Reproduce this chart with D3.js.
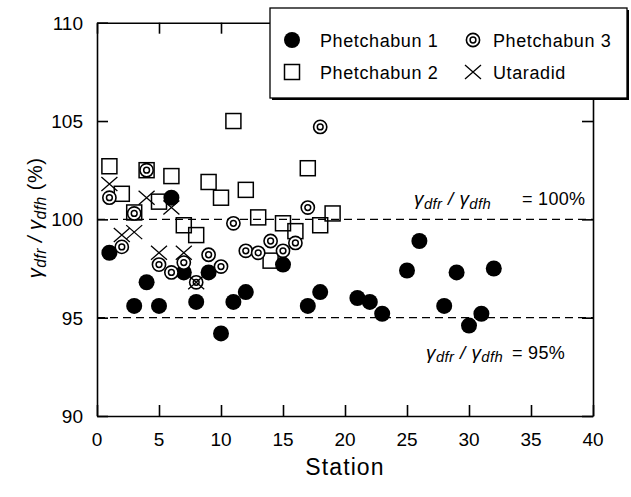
<!DOCTYPE html>
<html><head><meta charset="utf-8">
<script src="https://cdn.jsdelivr.net/npm/d3@7"></script>
<style>
body{margin:0;background:#fff;}
text{font-family:"Liberation Sans",Arial,sans-serif;fill:#000;}
</style></head>
<body>
<svg id="c" width="631" height="497"></svg>
<script>
// ---- data ----
const p1Station = [1,3,4,5,6,7,8,9,10,11,12,15,17,18,21,22,23,25,26,28,29,30,31,32];
const p1Value   = [98.3,95.6,96.8,95.6,101.1,97.3,95.8,97.3,94.2,95.8,96.3,97.7,95.6,96.3,96.0,95.8,95.2,97.4,98.9,95.6,97.3,94.6,95.2,97.5];
const p2Station = [1,2,3,4,5,6,7,8,9,10,11,12,13,14,15,16,17,18,19];
const p2Value   = [102.7,101.3,100.35,102.5,100.9,102.2,99.7,99.2,101.9,101.1,105.0,101.5,100.1,97.9,99.8,99.4,102.6,99.7,100.3];
const p3Station = [1,2,3,4,5,6,7,8,9,10,11,12,13,14,15,16,17,18];
const p3Value   = [101.1,98.6,100.3,102.5,97.7,97.3,97.8,96.8,98.2,97.6,99.8,98.4,98.3,98.9,98.4,98.8,100.6,104.7];
const utStation = [1,2,3,4,5,6,7,8];
const utValue   = [101.8,99.2,99.35,101.1,98.3,100.6,98.3,96.8];
const xTicks = [0,5,10,15,20,25,30,35,40];
const yTicks = [90,95,100,105,110];
const refLines = [100,95];
const refLabels = ["= 100%","= 95%"];
const seriesNames = ["Phetchabun 1","Phetchabun 2","Phetchabun 3","Utaradid"];

const svg = d3.select("#c");
const L=97, R=593, T=22.7, B=416;
const x = d3.scaleLinear().domain([0,40]).range([L,R]);
const y = d3.scaleLinear().domain([90,110]).range([B,T]);

// reference dashed lines
svg.selectAll("line.ref").data(refLines).enter().append("line")
  .attr("x1",L).attr("x2",R).attr("y1",d=>y(d)).attr("y2",d=>y(d))
  .attr("stroke","#000").attr("stroke-width",1.3).attr("stroke-dasharray","8,5");

// axes (inward ticks on all four sides)
const tl = 11;
const axB = d3.axisBottom(x).tickValues(xTicks).tickSize(-tl).tickSizeOuter(0).tickFormat("");
const axT = d3.axisTop(x).tickValues(xTicks).tickSize(-tl).tickSizeOuter(0).tickFormat("");
const axL = d3.axisLeft(y).tickValues(yTicks).tickSize(-tl).tickSizeOuter(0).tickFormat("");
const axR = d3.axisRight(y).tickValues(yTicks).tickSize(-tl).tickSizeOuter(0).tickFormat("");
function styleAx(g){g.selectAll("path,line").attr("stroke","#000").attr("stroke-width",1.6);}
svg.append("g").attr("transform",`translate(0,${B})`).call(axB).call(styleAx);
svg.append("g").attr("transform",`translate(0,${T})`).call(axT).call(styleAx);
svg.append("g").attr("transform",`translate(${L},0)`).call(axL).call(styleAx);
svg.append("g").attr("transform",`translate(${R},0)`).call(axR).call(styleAx);

// tick labels
svg.selectAll("text.xt").data(xTicks).enter().append("text")
  .attr("x",d=>x(d)).attr("y",446).attr("text-anchor","middle")
  .style("font-size","19px").text(d=>d);
svg.selectAll("text.yt").data(yTicks).enter().append("text")
  .attr("x",83).attr("y",d=>y(d)+7).attr("text-anchor","end")
  .style("font-size","19px").text(d=>d);

// axis titles
svg.append("text").attr("x",345).attr("y",475).attr("text-anchor","middle")
  .style("font-size","23px").style("letter-spacing","1.1px").text("Station");
function ratioLabel(sel,size,suffix){
  sel.append("tspan").style("font-style","italic").text("γ");
  sel.append("tspan").style("font-style","italic").style("font-size",(size*0.78)+"px").attr("dy",size*0.18).text("dfr");
  sel.append("tspan").style("font-style","italic").attr("dy",-size*0.18).text(" / ");
  sel.append("tspan").style("font-style","italic").text("γ");
  sel.append("tspan").style("font-style","italic").style("font-size",(size*0.78)+"px").attr("dy",size*0.18).text("dfh");
  if(suffix) sel.append("tspan").attr("dy",-size*0.18).text(suffix);
}
const yl = svg.append("text").attr("transform","translate(42,218) rotate(-90)")
  .attr("text-anchor","middle").style("font-size","20px").style("letter-spacing","0.5px");
ratioLabel(yl,20," (%)");
// reference-line annotations: [ratio start x, "=" start x, baseline offset from the line]
const refStart = [414,426], refEq = [522,512], refDy = [-14,41];
refLines.forEach((v,i)=>{
  const t = svg.append("text").attr("x",refStart[i]).attr("y",y(v)+refDy[i])
    .style("font-size","19px").style("letter-spacing","0.4px");
  ratioLabel(t,19,null);
  svg.append("text").attr("x",refEq[i]).attr("y",y(v)+refDy[i])
    .style("font-size","18px").style("letter-spacing","0.3px").text(refLabels[i]);
});

// markers
const g = svg.append("g");
const p2 = p2Station.map((s,i)=>({s,v:p2Value[i]}));
const p1 = p1Station.map((s,i)=>({s,v:p1Value[i]}));
const p3 = p3Station.map((s,i)=>({s,v:p3Value[i]}));
const ut = utStation.map((s,i)=>({s,v:utValue[i]}));
const sq=15;
function drawSquare(gg,cx,cy){gg.append("rect").attr("x",cx-sq/2).attr("y",cy-sq/2).attr("width",sq).attr("height",sq)
  .attr("fill","none").attr("stroke","#000").attr("stroke-width",1.5);}
function drawDot(gg,cx,cy){gg.append("circle").attr("cx",cx).attr("cy",cy).attr("r",8).attr("fill","#000");}
function drawDbl(gg,cx,cy){gg.append("circle").attr("cx",cx).attr("cy",cy).attr("r",6.6).attr("fill","#fff").attr("stroke","#000").attr("stroke-width",1.6);
  gg.append("circle").attr("cx",cx).attr("cy",cy).attr("r",2.9).attr("fill","none").attr("stroke","#000").attr("stroke-width",1.5);}
function drawX(gg,cx,cy){gg.append("path").attr("d",`M${cx-8},${cy-7}L${cx+8},${cy+7}M${cx-8},${cy+7}L${cx+8},${cy-7}`)
  .attr("stroke","#000").attr("stroke-width",1.3).attr("fill","none");}
p2.forEach(d=>drawSquare(g,x(d.s),y(d.v)));
p1.forEach(d=>drawDot(g,x(d.s),y(d.v)));
p3.forEach(d=>drawDbl(g,x(d.s),y(d.v)));
ut.forEach(d=>drawX(g,x(d.s),y(d.v)));

// legend
const lg = svg.append("g");
lg.append("rect").attr("x",272).attr("y",10).attr("width",357).attr("height",90).attr("fill","#000");
lg.append("rect").attr("x",270).attr("y",8).attr("width",357).attr("height",90)
  .attr("fill","#fff").attr("stroke","#000").attr("stroke-width",1.3);
const legItems = [
  {name:seriesNames[0],cx:292,cy:40,draw:drawDot},
  {name:seriesNames[1],cx:292,cy:72,draw:drawSquare},
  {name:seriesNames[2],cx:473,cy:40,draw:drawDbl},
  {name:seriesNames[3],cx:473,cy:72,draw:drawX}
];
legItems.forEach(it=>{
  it.draw(lg,it.cx,it.cy);
  lg.append("text").attr("x",it.cx+(it.cx<400?28:20)).attr("y",it.cy+6.5)
    .style("font-size","18px").style("letter-spacing","0.6px").text(it.name);
});
</script>
</body></html>
